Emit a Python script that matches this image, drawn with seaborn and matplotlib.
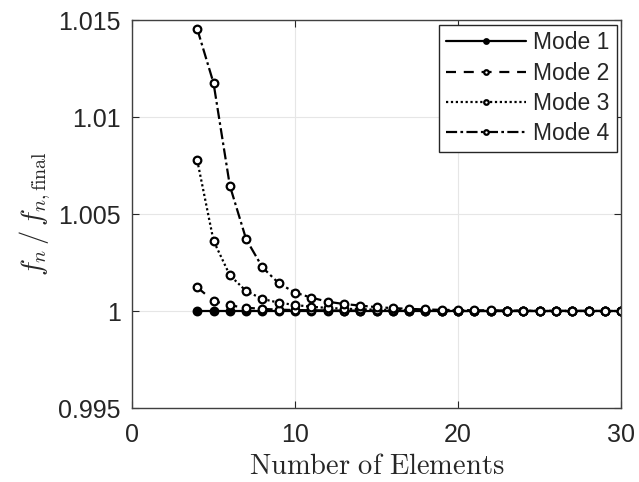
import matplotlib
matplotlib.use('Agg')
import matplotlib.pyplot as plt
import seaborn as sns
import pandas as pd

# %% data
n_elements = list(range(4, 31))
mode1 = [1.0] * 27
mode2 = [1.00122, 1.00052, 1.00029, 1.00017, 1.00011, 1.00007, 1.00005, 1.00004,
         1.00003, 1.00002, 1.00002, 1.00001, 1.00001, 1.00001, 1.00001, 1.0, 1.0,
         1.0, 1.0, 1.0, 1.0, 1.0, 1.0, 1.0, 1.0, 1.0, 1.0]
mode3 = [1.00777, 1.00362, 1.00184, 1.00103, 1.00062, 1.00043, 1.00031, 1.00022,
         1.00016, 1.00012, 1.00009, 1.00007, 1.00005, 1.00004, 1.00003, 1.00002,
         1.00002, 1.00001, 1.00001, 1.00001, 1.00001, 1.0, 1.0, 1.0, 1.0, 1.0, 1.0]
mode4 = [1.01454, 1.01175, 1.00646, 1.0037, 1.00225, 1.00143, 1.00095, 1.00069,
         1.00048, 1.00036, 1.00028, 1.0002, 1.00015, 1.00011, 1.00008, 1.00006,
         1.00005, 1.00004, 1.00003, 1.00002, 1.00002, 1.00001, 1.00001, 1.00001,
         1.00001, 1.0, 1.0]
mode_labels = ['Mode 1', 'Mode 2', 'Mode 3', 'Mode 4']

df = pd.DataFrame({'N': n_elements * 4,
                   'ratio': mode1 + mode2 + mode3 + mode4,
                   'mode': [m for m in mode_labels for _ in n_elements]})

# %% styling
sns.set_style('ticks')
plt.rcParams['font.family'] = ['Liberation Sans', 'DejaVu Sans']
plt.rcParams['mathtext.fontset'] = 'cm'

fig, ax = plt.subplots(figsize=(6.39, 4.82), dpi=100)
fig.subplots_adjust(left=0.2066, right=0.972, top=0.9585, bottom=0.1535)

styles = {'Mode 1': dict(ls='-', mfc='black'),
          'Mode 2': dict(ls=(0, (4.5, 3.5)), mfc='white'),
          'Mode 3': dict(ls=(0, (1, 1.2)), mfc='white'),
          'Mode 4': dict(ls=(0, (5, 1.5, 1.2, 1.5)), mfc='white')}

for m in mode_labels:
    sub = df[df['mode'] == m]
    st = styles[m]
    sns.lineplot(data=sub, x='N', y='ratio', ax=ax, color='black', lw=1.6,
                 linestyle=st['ls'], marker='o', markersize=5.5,
                 markerfacecolor=st['mfc'], markeredgecolor='black',
                 markeredgewidth=1.6, label=m)

ax.set_xlim(0, 30)
ax.set_ylim(0.995, 1.015)
ax.set_xticks([0, 10, 20, 30])
ax.set_yticks([0.995, 1.0, 1.005, 1.01, 1.015])
ax.set_yticklabels(['0.995', '1', '1.005', '1.01', '1.015'])
ax.grid(True, color='#e6e6e6', lw=0.8)
ax.tick_params(direction='in', top=True, right=True, labelsize=18,
               colors='#262626', length=5)
ax.tick_params(axis='x', pad=11)
ax.tick_params(axis='y', pad=8)
for s in ax.spines.values():
    s.set_color('#404040')
    s.set_linewidth(1.0)
    s.set_visible(True)

ax.set_xlabel(r'$\mathrm{Number\ of\ Elements}$', fontsize=20.5,
              color='#262626', labelpad=5)
ax.set_ylabel(r'$f_n\,/\,f_{n,\mathrm{final}}$', fontsize=20.5,
              color='#262626', labelpad=4)

leg = ax.legend(loc='upper right', fontsize=16.5, handlelength=3.5,
                frameon=True, fancybox=False, edgecolor='#262626',
                borderpad=0.3, labelspacing=0.32, handletextpad=0.3,
                borderaxespad=0.2, markerscale=0.6)
leg.get_frame().set_linewidth(1.0)
leg.get_frame().set_alpha(1)

plt.savefig('out.png', dpi=100)
